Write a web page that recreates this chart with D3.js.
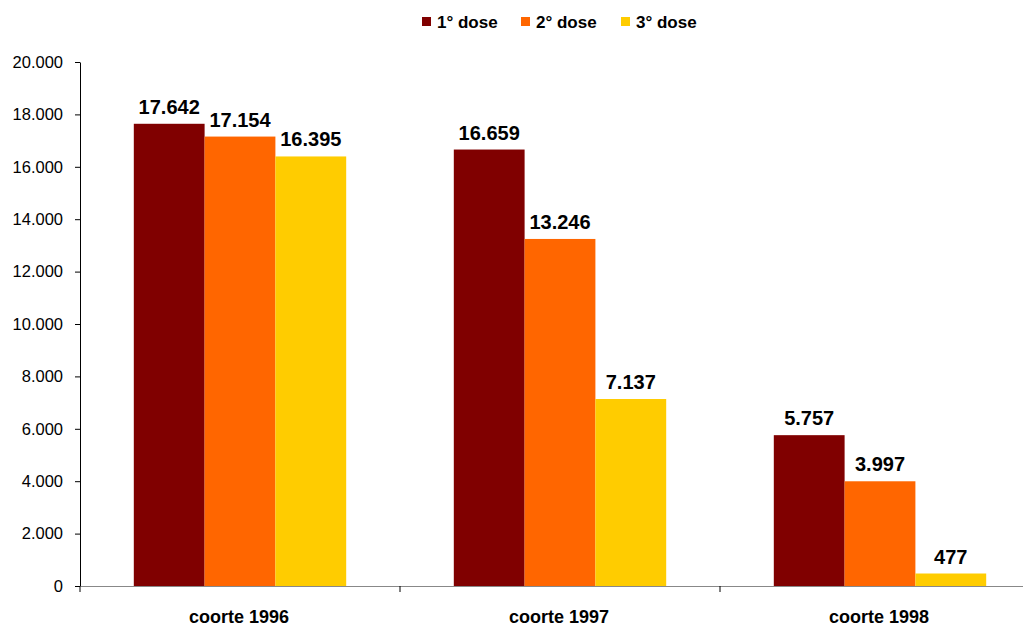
<!DOCTYPE html>
<html><head><meta charset="utf-8">
<script src="https://cdn.jsdelivr.net/npm/d3@7"></script>
<style>body{margin:0;background:#fff;}svg{display:block;font-family:"Liberation Sans",Arial,sans-serif;}</style>
</head><body><svg id="c" width="1023" height="625"></svg>
<script>
const categories = ["coorte 1996","coorte 1997","coorte 1998"];
const seriesNames = ["1° dose","2° dose","3° dose"];
const dose1 = [17642,16659,5757];
const dose2 = [17154,13246,3997];
const dose3 = [16395,7137,477];
const yTicks = [0,2000,4000,6000,8000,10000,12000,14000,16000,18000,20000];
const colors = ["#800000","#FF6600","#FFCC00"];
const series = [dose1,dose2,dose3];

const svg = d3.select("#c");
const mLeft=80, mRight=1040, mTop=62, mBottom=586;
const x = d3.scaleBand().domain(categories).range([mLeft,mRight]).paddingInner(0).paddingOuter(0);
const y = d3.scaleLinear().domain([0,20000]).range([mBottom,mTop]);
const fmt = v => d3.format(",")(v).replace(/,/g,".");

// y axis
const ya = svg.append("g").attr("transform",`translate(${mLeft},0)`)
  .call(d3.axisLeft(y).tickValues(yTicks).tickFormat(fmt).tickSize(5).tickSizeOuter(0));
ya.select(".domain").attr("stroke","#000");
ya.selectAll("line").attr("stroke","#000");
ya.selectAll("text").attr("font-size",16.5).attr("fill","#000").attr("font-family","Liberation Sans, Arial, sans-serif").attr("x",-17);

// x axis
const xa = svg.append("g").attr("transform",`translate(0,${mBottom})`)
  .call(d3.axisBottom(x).tickValues([]).tickSizeOuter(0));
xa.select(".domain").attr("stroke","#888");
const bounds = [0,1,2].map(i=>mLeft + i*x.bandwidth());
svg.append("g").selectAll("line").data(bounds).join("line")
  .attr("x1",d=>d).attr("x2",d=>d).attr("y1",mBottom).attr("y2",mBottom+6).attr("stroke","#000");

// bars
const inner = d3.scaleBand().domain(seriesNames).range([0,x.bandwidth()]).paddingOuter(0.76).paddingInner(0);
seriesNames.forEach((s,si)=>{
  const g = svg.append("g");
  g.selectAll("rect").data(series[si]).join("rect")
    .attr("x",(d,i)=>x(categories[i])+inner(s))
    .attr("y",d=>y(d)).attr("width",inner.bandwidth()).attr("height",d=>mBottom-y(d))
    .attr("fill",colors[si]);
  g.selectAll("text").data(series[si]).join("text")
    .attr("x",(d,i)=>x(categories[i])+inner(s)+inner.bandwidth()/2)
    .attr("y",d=>y(d)-10).attr("text-anchor","middle")
    .attr("font-size",20).attr("font-weight","bold").attr("fill","#000")
    .text(fmt);
});

// category labels
svg.append("g").selectAll("text").data(categories).join("text")
  .attr("x",d=>x(d)+x.bandwidth()/2-1).attr("y",622.5).attr("text-anchor","middle")
  .attr("font-size",18).attr("font-weight","bold").attr("fill","#000").text(d=>d);

// legend
const legX=[422,521,621];
const lg = svg.append("g");
seriesNames.forEach((s,i)=>{
  lg.append("rect").attr("x",legX[i]).attr("y",17).attr("width",9).attr("height",9).attr("fill",colors[i]);
  lg.append("text").attr("x",legX[i]+15).attr("y",28).attr("font-size",17).attr("font-weight","bold").attr("fill","#000").text(s);
});
</script></body></html>
